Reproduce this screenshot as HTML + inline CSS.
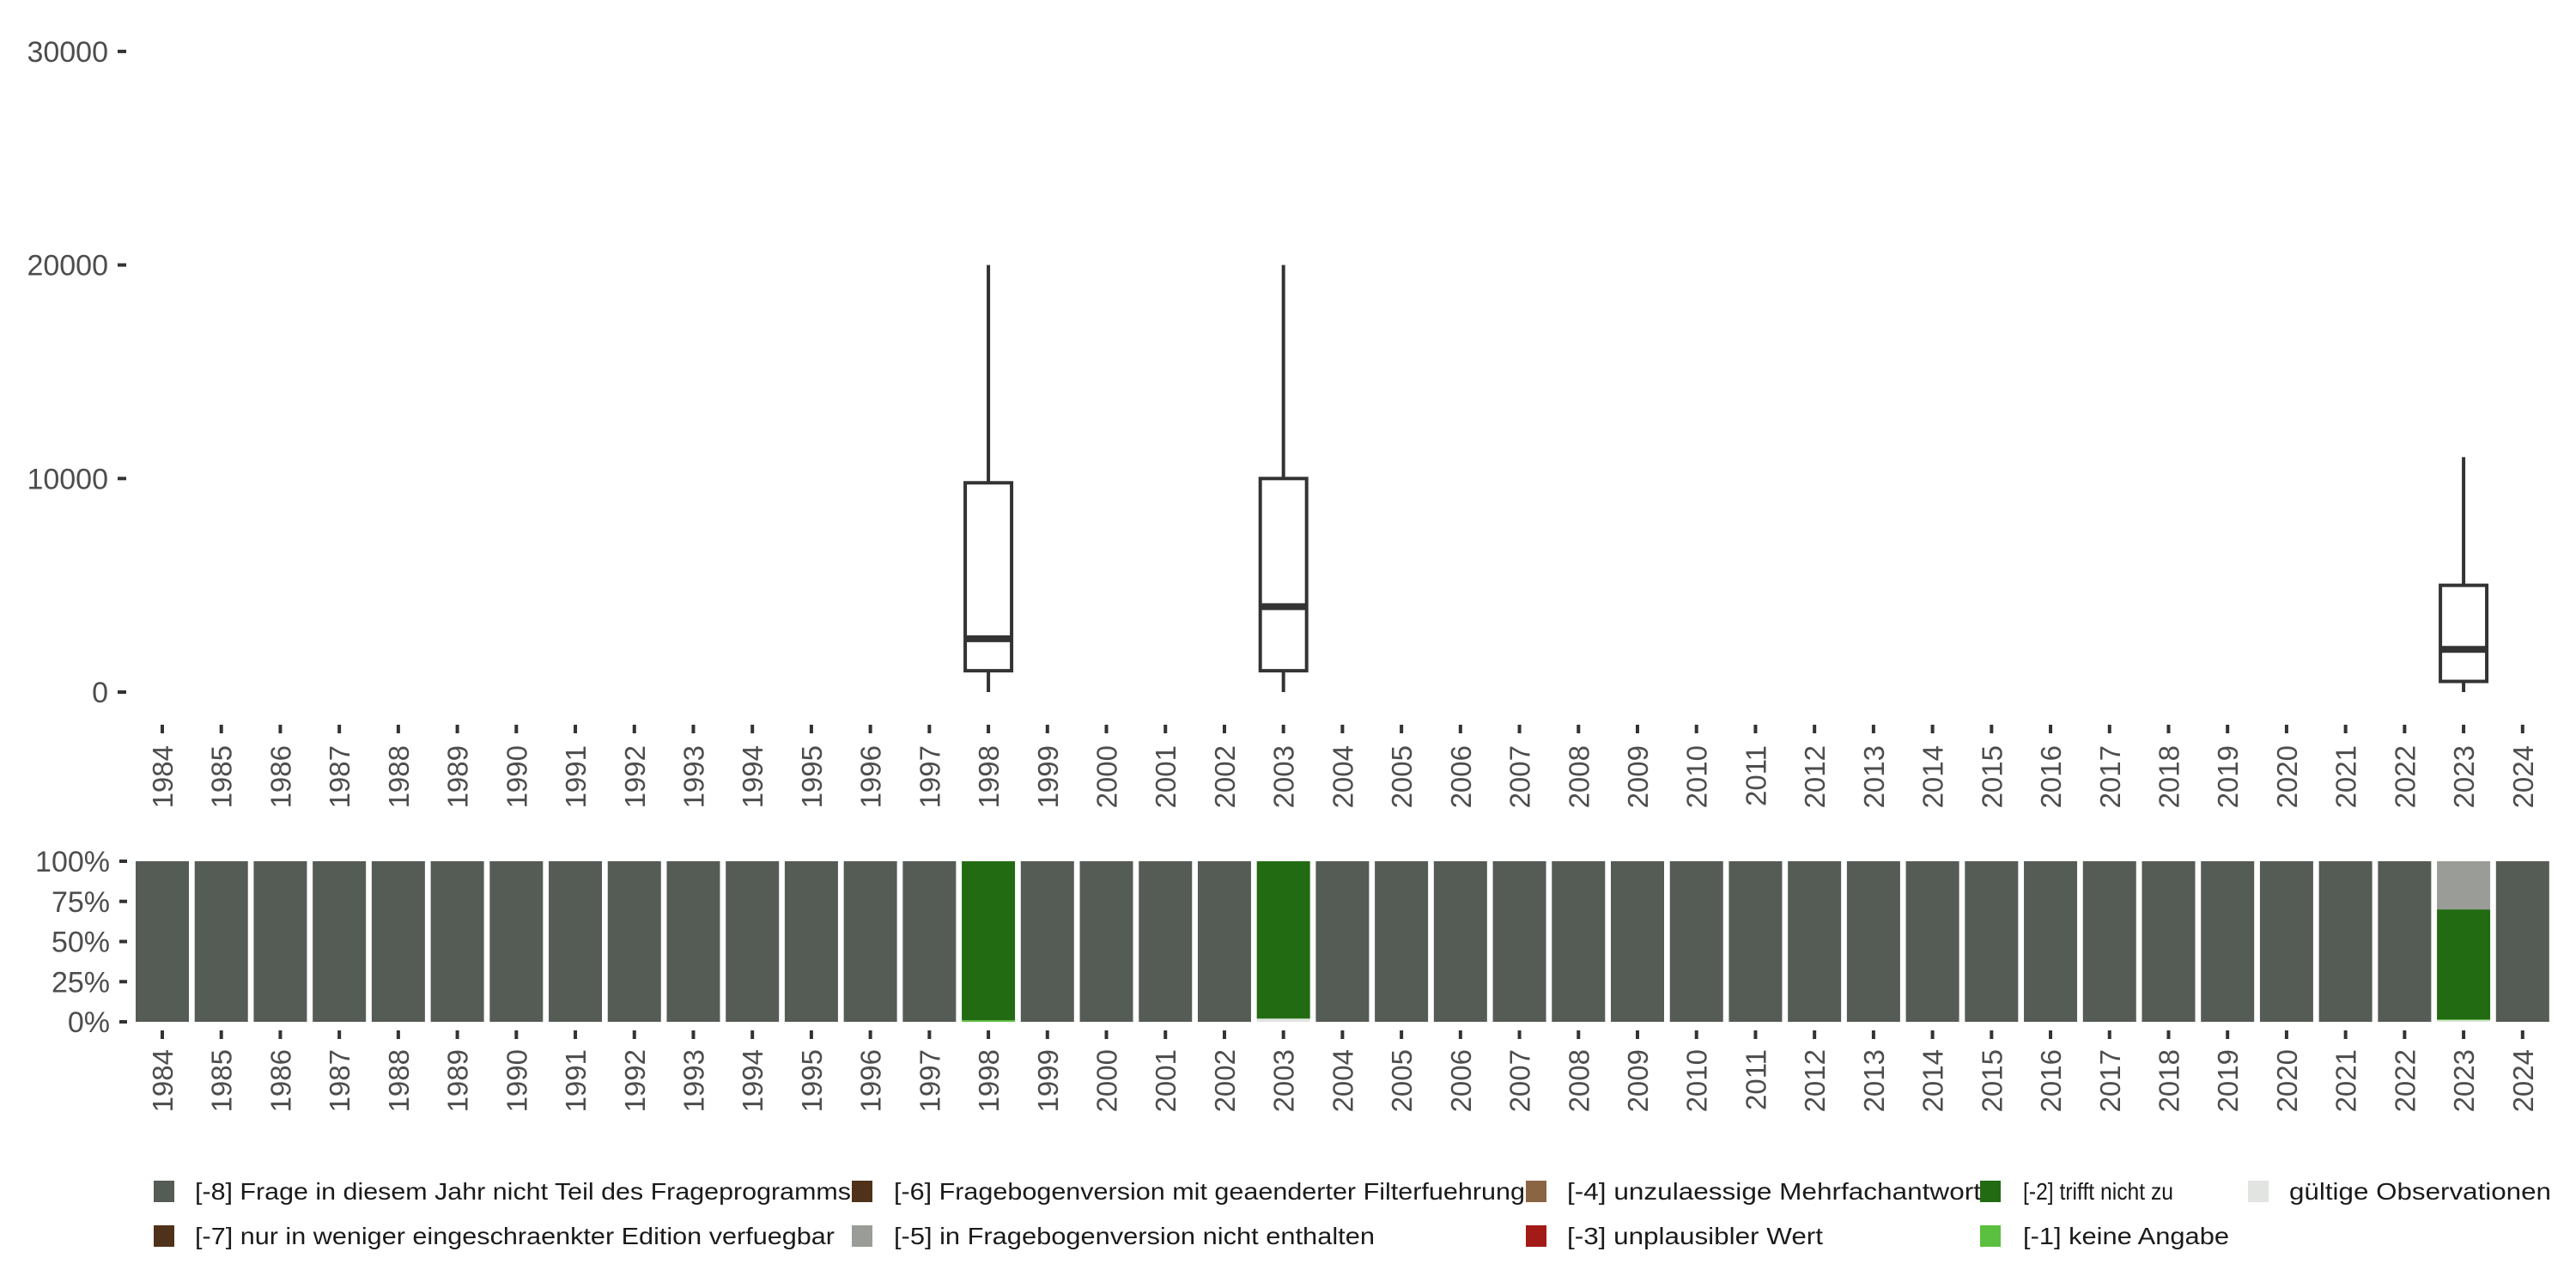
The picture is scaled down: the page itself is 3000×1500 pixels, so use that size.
<!DOCTYPE html>
<html><head><meta charset="utf-8"><style>
html,body{margin:0;padding:0;background:#fff;}
svg{display:block;font-family:"Liberation Sans",sans-serif;}
</style></head><body>
<svg id="chart" width="3000" height="1500" viewBox="0 0 3000 1500" xmlns="http://www.w3.org/2000/svg">
<g id="topPanel"></g>
<g id="botPanel"></g>
<g id="legPanel"></g>
</svg>
<script>
const years = [];
for (let y = 1984; y <= 2024; y++) years.push(y);
const yTicks = [0, 10000, 20000, 30000];
const boxYears = [1998, 2003, 2023];
const boxMin = [0, 0, 0];
const boxQ1 = [1000, 1000, 500];
const boxMed = [2500, 4000, 2000];
const boxQ3 = [9800, 10000, 5000];
const boxMax = [20000, 20000, 11000];
const pctTicks = [0, 25, 50, 75, 100];
// stacked shares (bottom to top): gueltig, [-1], [-2], [-5]
const specialYears = [1998, 2003, 2023];
const shareValid = [0, 2, 1];
const shareNoAnswer = [1, 0, 0.5];
const shareNotApply = [99, 98, 68.5];
const shareNotInVersion = [0, 0, 30];
const legendLabels = ["[-8] Frage in diesem Jahr nicht Teil des Frageprogramms","[-7] nur in weniger eingeschraenkter Edition verfuegbar","[-6] Fragebogenversion mit geaenderter Filterfuehrung","[-5] in Fragebogenversion nicht enthalten","[-4] unzulaessige Mehrfachantwort","[-3] unplausibler Wert","[-2] trifft nicht zu","[-1] keine Angabe","gültige Observationen"];
const legendColors = ["#555b55","#4f3219","#4f3219","#9a9c97","#8b6543","#a31a17","#226b12","#5bbf3f","#e1e4e0"];

const NS = "http://www.w3.org/2000/svg";
function mk(parent, tag, attrs, text){const e=document.createElementNS(NS,tag);for(const k in attrs)e.setAttribute(k,attrs[k]);if(text!==undefined)e.textContent=text;parent.appendChild(e);return e;}
const xPos = y => 189 + (y - 1984) * 68.72;
const yTop = v => 806 - v * 0.02487;
const yBot = p => 1190 - p * 1.87;

const topG = document.getElementById('topPanel');
yTicks.forEach(t => {
  const y = yTop(t);
  const l = mk(topG,'line',{x1:137,x2:147,y1:y,y2:y,stroke:'#333','stroke-width':4});
  
  
  const tx = mk(topG,'text',{x:126,y:y+12,'text-anchor':'end','font-size':34,fill:'#4d4d4d'},String(t));
  
  
});
function xAxis(g, tickY, labY){
  years.forEach(yr => {
    const x = xPos(yr);
    const l = mk(g,'line',{x1:x,x2:x,y1:tickY,y2:tickY+10,stroke:'#333','stroke-width':4});
    
    
    const t = mk(g,'text',{x:x+12,y:labY,'text-anchor':'end','font-size':33,fill:'#4d4d4d',transform:`rotate(-90 ${x+12} ${labY})`},String(yr));
    
    
  });
}
xAxis(topG, 844, 868);
boxYears.forEach((yr,i) => {
  const x = xPos(yr), w = 54;
  const g = mk(topG,'g',{});
  
  
  mk(g,'line',{x1:x,x2:x,y1:yTop(boxMax[i]),y2:yTop(boxQ3[i]),stroke:'#333','stroke-width':4});
  mk(g,'line',{x1:x,x2:x,y1:yTop(boxQ1[i]),y2:yTop(boxMin[i]),stroke:'#333','stroke-width':4});
  mk(g,'rect',{x:x-w/2,y:yTop(boxQ3[i]),width:w,height:yTop(boxQ1[i])-yTop(boxQ3[i]),fill:'#fff',stroke:'#333','stroke-width':4});
  mk(g,'line',{x1:x-w/2,x2:x+w/2,y1:yTop(boxMed[i]),y2:yTop(boxMed[i]),stroke:'#333','stroke-width':8});
});

const botG = document.getElementById('botPanel');
pctTicks.forEach(p => {
  const y = yBot(p);
  const l = mk(botG,'line',{x1:139,x2:148,y1:y,y2:y,stroke:'#333','stroke-width':4});
  
  
  const t = mk(botG,'text',{x:128,y:y+12,'text-anchor':'end','font-size':34,fill:'#4d4d4d'},p+'%');
  
  
});
xAxis(botG, 1200, 1222);
years.forEach(yr => {
  const x = xPos(yr), w = 62;
  const g = mk(botG,'g',{});
  
  
  const si = specialYears.indexOf(yr);
  let segs;
  if (si < 0) segs = [[100,'#555b55']];
  else segs = [[shareValid[si],'#e1e4e0'],[shareNoAnswer[si],'#5bbf3f'],[shareNotApply[si],'#226b12'],[shareNotInVersion[si],'#9a9c97']];
  let acc = 0;
  segs.forEach(([v,c]) => {
    if (v <= 0) return;
    mk(g,'rect',{x:x-w/2,y:yBot(acc+v),width:w,height:yBot(acc)-yBot(acc+v),fill:c});
    acc += v;
  });
});

const legG = document.getElementById('legPanel');
const cols = [[179,227,764],[992,1041,735],[1777,1825,482],[2306,2356,175],[2618,2666,305]];
const row2Widths = [745,560,298,240,300];
legendLabels.forEach((lab,i) => {
  const c = Math.floor(i/2), r = i%2;
  const [sx, tx, tw] = cols[c];
  const yc = r ? 1439 : 1387;
  const g = mk(legG,'g',{});
  
  
  mk(g,'rect',{x:sx,y:yc-12,width:24,height:25,fill:legendColors[i]});
  const t = mk(g,'text',{x:tx,y:yc+10,'font-size':28,fill:'#1a1a1a'},lab);
  t.setAttribute('textLength', r ? row2Widths[c] : tw);
  t.setAttribute('lengthAdjust','spacingAndGlyphs');
});
</script>
</body></html>
